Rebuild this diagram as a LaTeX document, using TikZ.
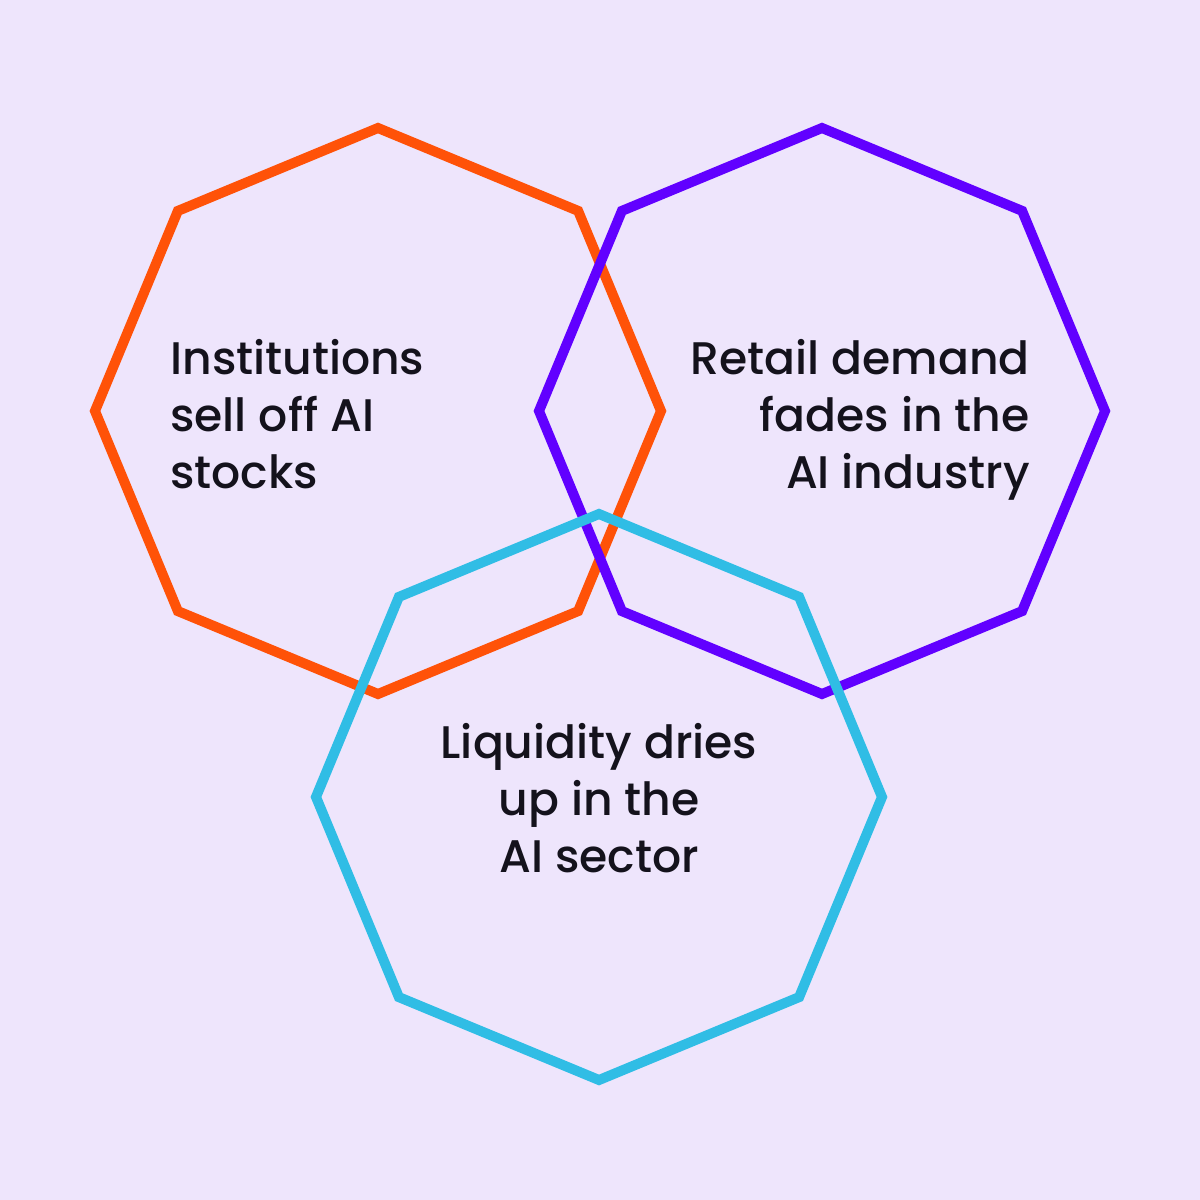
\documentclass[tikz,border=0pt]{standalone}
\usepackage{fontspec}
\setmainfont{Poppins}[UprightFont=* Medium]
\definecolor{bgpage}{HTML}{EEE5FC}
\definecolor{octorange}{HTML}{FF5208}
\definecolor{octpurple}{HTML}{6100FF}
\definecolor{octblue}{HTML}{30BDE5}
\definecolor{inkdark}{HTML}{14121C}
\begin{document}
\begin{tikzpicture}[x=0.02cm,y=-0.02cm,
		octo/.style={line width=0.2cm,line join=miter},
		lbl/.style={inner sep=0,text=inkdark,font=\fontsize{26}{32.4}\selectfont}]
\fill[bgpage] (0,0) rectangle (1200,1200);
\useasboundingbox (0,0) rectangle (1200,1200);
\coordinate (inst) at (378,411);
\coordinate (retail) at (822,411);
\coordinate (liq) at (599,797);
% the three octagons, blue on top
\draw[octo,octorange] (inst) +(90:283) \foreach \a in {135,180,...,405} {-- +(\a:283)} -- cycle;
\draw[octo,octpurple] (retail) +(90:283) \foreach \a in {135,180,...,405} {-- +(\a:283)} -- cycle;
\draw[octo,octblue] (liq) +(90:283) \foreach \a in {135,180,...,405} {-- +(\a:283)} -- cycle;
\node[lbl,anchor=base west,align=left] (instlbl) at (170,488) {Institutions\\sell off AI\\stocks};
\node[lbl,anchor=base east,align=right] (retaillbl) at (1030,488) {Retail demand\\fades in the\\AI industry};
\node[lbl,anchor=base,align=center] (liqlbl) at (599,872) {Liquidity dries\\up in the\\AI sector};
\end{tikzpicture}
\end{document}
